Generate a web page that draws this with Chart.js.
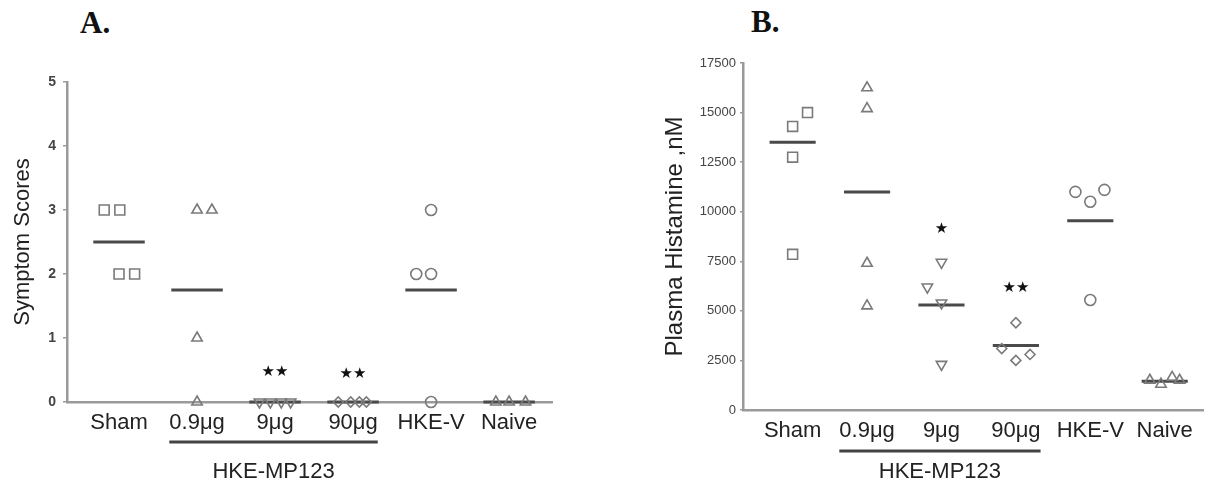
<!DOCTYPE html>
<html>
<head>
<meta charset="utf-8">
<script src="https://cdn.jsdelivr.net/npm/chart.js@4.4.0/dist/chart.umd.min.js"></script>
<style>
  body { margin: 0; background: #fff; width: 1212px; height: 485px; position: relative; overflow: hidden; }
  .panel { position: absolute; top: 0; height: 485px; }
  .tag { position: absolute; font: bold 31px "Liberation Serif", "Times New Roman", serif; line-height: 31px; color: #111; }
</style>
</head>
<body>
<div class="tag" style="left:80px;top:7px">A.</div>
<div class="tag" style="left:751px;top:6px">B.</div>
<div class="panel" style="left:0;width:600px"><canvas id="chartA"></canvas></div>
<div class="panel" style="left:600px;width:612px"><canvas id="chartB"></canvas></div>

<script>
// Groups on the x axis
const categories = ['Sham', '0.9μg', '9μg', '90μg', 'HKE-V', 'Naive'];
const groupLabel = 'HKE-MP123';

// Panel A - symptom scores per animal
const scoreValues = [[3, 3, 2, 2], [3, 3, 1, 0], [0, 0, 0, 0], [0, 0, 0, 0], [3, 2, 2, 0], [0, 0, 0]];
const scoreJitter = [[-0.19, 0.01, 0, 0.2], [0, 0.19, 0, 0], [-0.2, -0.06, 0.08, 0.2], [-0.19, -0.03, 0.08, 0.17], [0, -0.19, 0, 0], [-0.17, 0, 0.21]];
const scoreMeans = [2.5, 1.75, 0, 0, 1.75, 0];
const scoreTicks = [0, 1, 2, 3, 4, 5];
const scoreSigCats = [2, 3];
const scoreSigVals = [0.47, 0.44];
const scoreSigMarks = ['★★', '★★'];

// Panel B - plasma histamine (nM) per animal
const histValues = [[15000, 14300, 12750, 7850], [16250, 15200, 7400, 5250], [7450, 6200, 5400, 2300], [4400, 3100, 2500, 2800], [11000, 10500, 11100, 5550], [1500, 1300, 1650, 1500]];
const histJitter = [[0.2, 0, 0, 0], [0, 0, 0, 0], [0, -0.19, 0, 0], [0, -0.19, 0, 0.19], [-0.2, 0, 0.19, 0], [-0.2, -0.05, 0.1, 0.2]];
const histMeans = [13500, 11000, 5300, 3250, 9550, 1450];
const histTicks = [0, 2500, 5000, 7500, 10000, 12500, 15000, 17500];
const histSigCats = [2, 3];
const histSigVals = [9100, 6150];
const histSigMarks = ['★', '★★'];

// Marker look for each group
const markerStyles = ['rect', 'triangle', 'triangle', 'rectRot', 'circle', 'triangle'];
const markerRotation = [0, 0, 180, 0, 0, 0];
const markerRadius = [7, 6, 6, 5, 5.5, 6];

const FONT = '"Liberation Sans", Arial, sans-serif';

// Stars and the HKE-MP123 bracket under the x labels
const extrasPlugin = {
    id: 'extras',
    afterDatasetsDraw(chart, args, opts) {
        const ctx = chart.ctx;
        const x = chart.scales.x;
        const y = chart.scales.y;
        ctx.save();
        ctx.fillStyle = '#111';
        ctx.textAlign = 'center';
        ctx.textBaseline = 'middle';
        ctx.font = '15px "DejaVu Sans"';
        opts.sigCats.forEach((c, k) => {
            ctx.fillText(opts.sigMarks[k], x.getPixelForValue(c), y.getPixelForValue(opts.sigVals[k]));
        });

        // underline spans from 0.9μg label to 90μg label
        ctx.font = '22px ' + FONT;
        const left = x.getPixelForValue(1) - ctx.measureText(categories[1]).width / 2;
        const right = x.getPixelForValue(3) + ctx.measureText(categories[3]).width / 2;
        const lineY = chart.chartArea.bottom + opts.lineGap;
        ctx.strokeStyle = '#444';
        ctx.lineWidth = 3;
        ctx.beginPath();
        ctx.moveTo(left, lineY);
        ctx.lineTo(right, lineY);
        ctx.stroke();
        ctx.fillStyle = '#222';
        ctx.fillText(groupLabel, (left + right) / 2, chart.chartArea.bottom + opts.textGap);
        ctx.restore();
    }
};

function buildDatasets(values, jitter, means, halfWidth) {
    const sets = [];
    values.forEach((vals, i) => {
        sets.push({
            data: vals.map((v, k) => ({ x: i + jitter[i][k], y: v })),
            pointStyle: markerStyles[i],
            rotation: markerRotation[i],
            pointRadius: markerRadius[i],
            pointBorderColor: '#7a7a7a',
            pointBackgroundColor: 'rgba(0,0,0,0)',
            pointBorderWidth: 1.6,
            showLine: false,
            clip: false
        });
    });
    means.forEach((m, i) => {
        sets.push({
            data: [{ x: i - halfWidth, y: m }, { x: i + halfWidth, y: m }],
            showLine: true,
            borderColor: '#4a4a4a',
            borderWidth: 3,
            pointRadius: 0,
            clip: false
        });
    });
    return sets;
}

function makeChart(id, cfg) {
    const ctx = document.getElementById(id).getContext('2d');
    return new Chart(ctx, {
        type: 'scatter',
        data: { datasets: buildDatasets(cfg.values, cfg.jitter, cfg.means, cfg.halfWidth) },
        plugins: [extrasPlugin],
        options: {
            responsive: true,
            maintainAspectRatio: false,
            animation: false,
            layout: { padding: cfg.padding },
            scales: {
                x: {
                    type: 'linear',
                    min: -0.667,
                    max: cfg.xMax,
                    afterBuildTicks: s => { s.ticks = categories.map((c, i) => ({ value: i })); },
                    afterFit: s => { s.height = cfg.xHeight; },
                    grid: { display: false, drawTicks: false },
                    border: { color: '#9a9a9a', width: 2.5 },
                    ticks: {
                        autoSkip: false,
                        maxRotation: 0,
                        padding: 8,
                        color: '#222',
                        font: { size: 22, family: FONT },
                        callback: (v, i) => categories[i]
                    }
                },
                y: {
                    min: 0,
                    max: cfg.ticks[cfg.ticks.length - 1],
                    afterBuildTicks: s => { s.ticks = cfg.ticks.map(v => ({ value: v })); },
                    afterFit: s => { s.width = cfg.yWidth; },
                    grid: { drawOnChartArea: false, drawTicks: true, tickLength: cfg.tickLength, color: '#9a9a9a', lineWidth: 1.5 },
                    border: { color: '#9a9a9a', width: 2.5 },
                    ticks: { padding: cfg.tickPad, color: '#444', font: cfg.tickFont, callback: v => String(v) },
                    title: {
                        display: true,
                        text: cfg.title,
                        color: '#222',
                        font: { size: cfg.titleSize, family: FONT },
                        padding: { top: cfg.titlePad, bottom: 0 }
                    }
                }
            },
            plugins: {
                legend: { display: false },
                tooltip: { enabled: false },
                extras: {
                    sigCats: cfg.sigCats,
                    sigVals: cfg.sigVals,
                    sigMarks: cfg.sigMarks,
                    lineGap: cfg.lineGap,
                    textGap: cfg.textGap
                }
            }
        }
    });
}

makeChart('chartA', {
    values: scoreValues, jitter: scoreJitter, means: scoreMeans, halfWidth: 0.33,
    ticks: scoreTicks, sigCats: scoreSigCats, sigVals: scoreSigVals, sigMarks: scoreSigMarks,
    title: 'Symptom Scores', titleSize: 22, titlePad: 10,
    tickFont: { size: 14, weight: 'bold', family: FONT }, tickLength: 4, tickPad: 7,
    padding: { top: 82, right: 48, left: 0, bottom: 0 },
    xMax: 5.55, xHeight: 83, yWidth: 67, lineGap: 40, textGap: 70
});

makeChart('chartB', {
    values: histValues, jitter: histJitter, means: histMeans, halfWidth: 0.31,
    ticks: histTicks, sigCats: histSigCats, sigVals: histSigVals, sigMarks: histSigMarks,
    title: 'Plasma Histamine ,nM', titleSize: 24, titlePad: 61,
    tickFont: { size: 13, family: FONT }, tickLength: 3, tickPad: 4,
    padding: { top: 63, right: 5, left: 0, bottom: 0 },
    xMax: 5.52, xHeight: 75, yWidth: 143, lineGap: 41, textGap: 62
});
</script>
</body>
</html>
